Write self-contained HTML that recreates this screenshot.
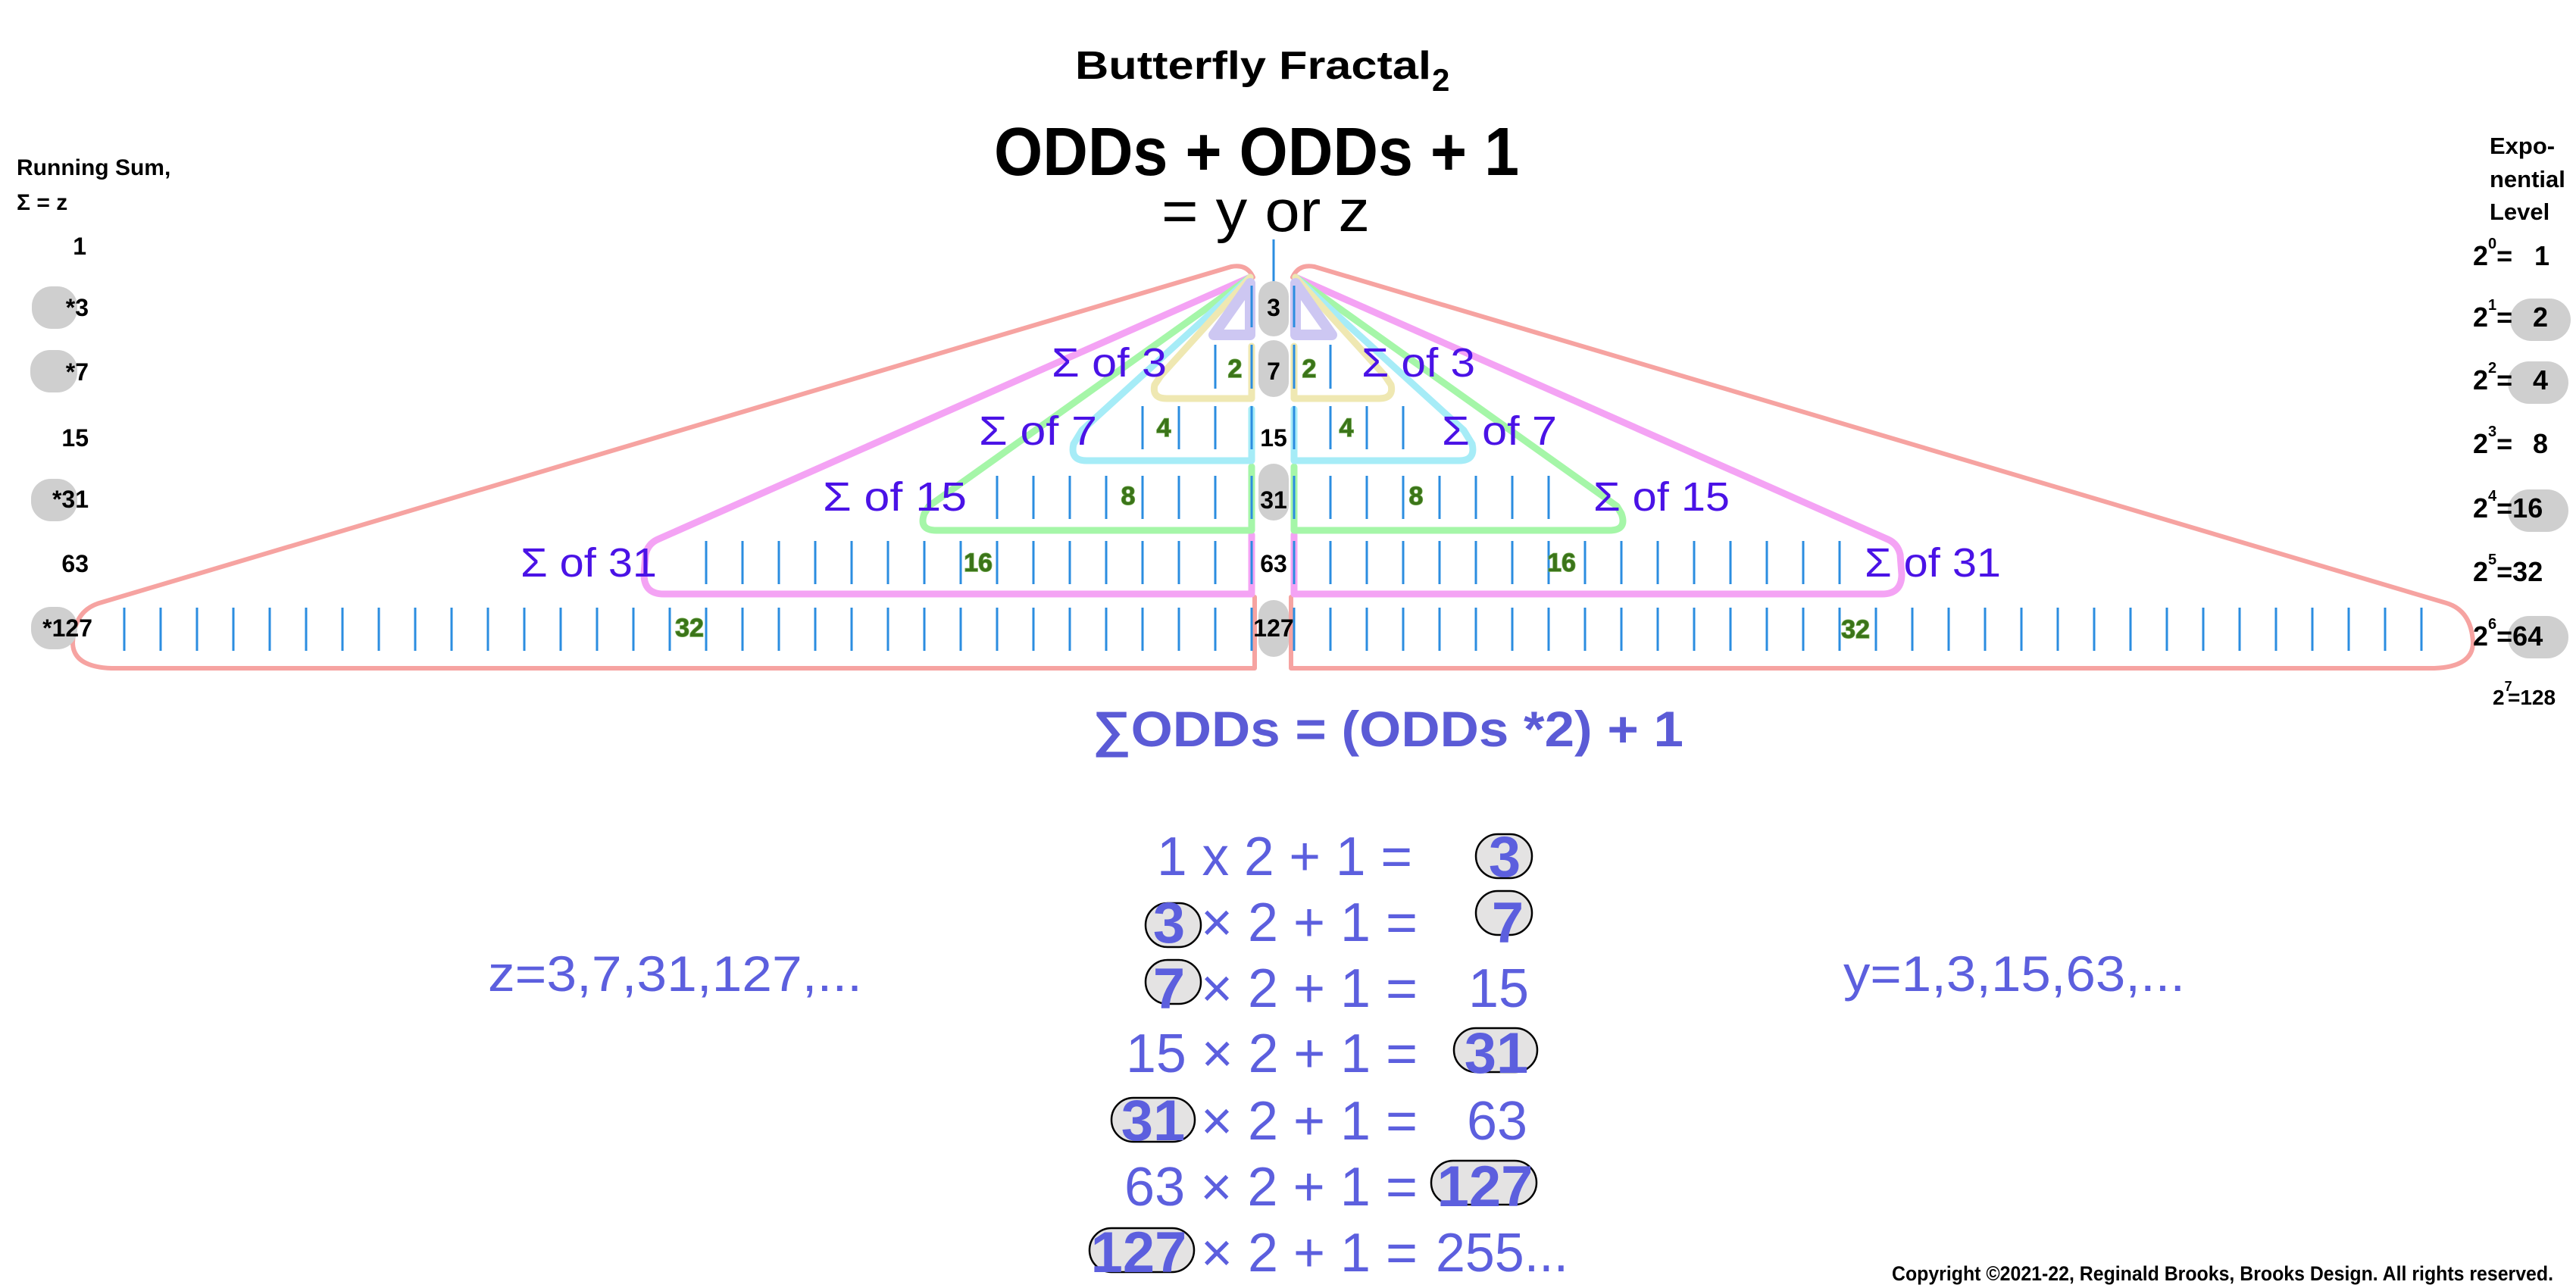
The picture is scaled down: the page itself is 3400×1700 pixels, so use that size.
<!DOCTYPE html>
<html><head><meta charset="utf-8"><style>
html,body{margin:0;padding:0;background:#fff;}
svg{display:block;}
text{font-family:"Liberation Sans",sans-serif;}
</style></head><body>
<svg width="3400" height="1700" viewBox="0 0 3400 1700" xmlns="http://www.w3.org/2000/svg">
<defs>
<pattern id="pl" patternUnits="userSpaceOnUse" x="18.5" y="0" width="48" height="1700"><rect x="0" y="0" width="3" height="1700" fill="#2b8de0"/></pattern>
<pattern id="pr" patternUnits="userSpaceOnUse" x="26.5" y="0" width="48" height="1700"><rect x="0" y="0" width="3" height="1700" fill="#2b8de0"/></pattern>
<g id="wing" fill="none" stroke-linejoin="round" stroke-linecap="round">
  <path d="M1656,788 L1656,882 L147,882 Q96,880 96,848 Q98,806 131,796 L1625,352 Q1646,348 1654,366" stroke="#f6a3a1" stroke-width="6"/>
  <path d="M1652,706 L1652,784 L876,784 Q850,784 850,758 L852,732 Q855,718 868,712 L1650,366" stroke="#f4a3f4" stroke-width="9"/>
  <path d="M1652,616 L1652,700 L1236,700 Q1212,700 1220,678 L1226,668 L1650,366" stroke="#a5f6a8" stroke-width="9"/>
  <path d="M1652,540 L1652,608 L1434,608 Q1412,608 1417,586 L1428,568 L1650,366" stroke="#a6ecf7" stroke-width="9"/>
  <path d="M1652,457 L1652,526 L1540,526 Q1520,526 1524,508 L1532,496 L1650,366" stroke="#efe8b2" stroke-width="9"/>
  <path d="M1650,374 L1650,442 L1602,442 Z" stroke="#cdc7f2" stroke-width="14"/>
</g>
</defs>
<use href="#wing"/>
<use href="#wing" transform="translate(3360,0) scale(-1,1)"/>
<rect x="1650.5" y="377" width="3" height="55" fill="url(#pl)"/>
<rect x="1602.5" y="455" width="51" height="58" fill="url(#pl)"/>
<rect x="1506.5" y="536" width="147" height="57" fill="url(#pl)"/>
<rect x="1314.5" y="628" width="339" height="57" fill="url(#pl)"/>
<rect x="930.5" y="714" width="723" height="57" fill="url(#pl)"/>
<rect x="162.5" y="802" width="1491" height="57" fill="url(#pl)"/>
<rect x="1706.5" y="377" width="3" height="55" fill="url(#pr)"/>
<rect x="1706.5" y="455" width="51" height="58" fill="url(#pr)"/>
<rect x="1706.5" y="536" width="147" height="57" fill="url(#pr)"/>
<rect x="1706.5" y="628" width="339" height="57" fill="url(#pr)"/>
<rect x="1706.5" y="714" width="723" height="57" fill="url(#pr)"/>
<rect x="1706.5" y="802" width="1491" height="57" fill="url(#pr)"/>
<line x1="1681" y1="316" x2="1681" y2="372" stroke="#2b8de0" stroke-width="3"/>
<g fill="#cfcfcf">
<rect x="1661" y="371" width="40" height="73" rx="20"/>
<rect x="1661" y="449" width="40" height="75" rx="20"/>
<rect x="1661" y="612" width="40" height="75" rx="20"/>
<rect x="1661" y="792" width="40" height="75" rx="20"/>
</g>
<g font-weight="bold" font-size="32" text-anchor="middle" fill="#000">
<text x="1681" y="417">3</text>
<text x="1681" y="501">7</text>
<text x="1681" y="589">15</text>
<text x="1681" y="671">31</text>
<text x="1681" y="755">63</text>
<text x="1681" y="840">127</text>
</g>
<g font-weight="bold" font-size="34" text-anchor="middle" fill="#3b7419" stroke="#6fa84c" stroke-width="1.5" paint-order="stroke">
<text x="1630" y="498">2</text><text x="1728" y="498">2</text>
<text x="1536" y="576">4</text><text x="1777" y="576">4</text>
<text x="1489" y="666">8</text><text x="1869" y="666">8</text>
<text x="1291" y="754">16</text><text x="2061" y="754">16</text>
<text x="910" y="840">32</text><text x="2449" y="842">32</text>
</g>
<g font-size="54" fill="#4a12e6" lengthAdjust="spacingAndGlyphs">
<text x="1388" y="497" textLength="152" lengthAdjust="spacingAndGlyphs">Σ of 3</text>
<text x="1797" y="497" textLength="150" lengthAdjust="spacingAndGlyphs">Σ of 3</text>
<text x="1292" y="587" textLength="156" lengthAdjust="spacingAndGlyphs">Σ of 7</text>
<text x="1903" y="587" textLength="152" lengthAdjust="spacingAndGlyphs">Σ of 7</text>
<text x="1086" y="674" textLength="190" lengthAdjust="spacingAndGlyphs">Σ of 15</text>
<text x="2103" y="674" textLength="180" lengthAdjust="spacingAndGlyphs">Σ of 15</text>
<text x="687" y="761" textLength="180" lengthAdjust="spacingAndGlyphs">Σ of 31</text>
<text x="2461" y="761" textLength="180" lengthAdjust="spacingAndGlyphs">Σ of 31</text>
</g>
<text x="1419" y="104" font-size="52" font-weight="bold" textLength="470" lengthAdjust="spacingAndGlyphs">Butterfly Fractal</text>
<text x="1890" y="120" font-size="42" font-weight="bold">2</text>
<text x="1312" y="231" font-size="90" font-weight="bold" textLength="693" lengthAdjust="spacingAndGlyphs">ODDs + ODDs + 1</text>
<text x="1533" y="305" font-size="78" textLength="275" lengthAdjust="spacingAndGlyphs">= y or z</text>
<g font-weight="bold" font-size="30" fill="#000">
<text x="22" y="231">Running Sum,</text>
<text x="22" y="277">Σ = z</text>
</g>
<g fill="#cfcfcf">
<rect x="42" y="378" width="60" height="56" rx="26"/>
<rect x="40" y="462" width="62" height="56" rx="26"/>
<rect x="41" y="632" width="61" height="56" rx="26"/>
<rect x="41" y="801" width="61" height="56" rx="26"/>
</g>
<g font-weight="bold" font-size="32" fill="#000" text-anchor="end">
<text x="114" y="336">1</text>
<text x="117" y="417">*3</text>
<text x="117" y="502">*7</text>
<text x="117" y="589">15</text>
<text x="117" y="670">*31</text>
<text x="117" y="755">63</text>
<text x="122" y="840">*127</text>
</g>
<g font-weight="bold" font-size="31" fill="#000">
<text x="3286" y="203">Expo-</text>
<text x="3286" y="247">nential</text>
<text x="3286" y="290">Level</text>
</g>
<g fill="#cfcfcf">
<rect x="3313" y="394" width="80" height="56" rx="28"/>
<rect x="3310" y="477" width="80" height="56" rx="28"/>
<rect x="3310" y="646" width="80" height="56" rx="28"/>
<rect x="3310" y="813" width="80" height="56" rx="28"/>
</g>
<g font-weight="bold" font-size="36" fill="#000">
<text x="3264" y="350">2<tspan font-size="20" dy="-22">0</tspan><tspan dy="22">= </tspan><tspan x="3345">1</tspan></text>
<text x="3264" y="431">2<tspan font-size="20" dy="-22">1</tspan><tspan dy="22">= </tspan><tspan x="3343">2</tspan></text>
<text x="3264" y="514">2<tspan font-size="20" dy="-22">2</tspan><tspan dy="22">= </tspan><tspan x="3343">4</tspan></text>
<text x="3264" y="598">2<tspan font-size="20" dy="-22">3</tspan><tspan dy="22">= </tspan><tspan x="3343">8</tspan></text>
<text x="3264" y="683">2<tspan font-size="20" dy="-22">4</tspan><tspan dy="22">=16</tspan></text>
<text x="3264" y="767">2<tspan font-size="20" dy="-22">5</tspan><tspan dy="22">=32</tspan></text>
<text x="3264" y="852">2<tspan font-size="20" dy="-22">6</tspan><tspan dy="22">=64</tspan></text>
<text x="3290" y="930" font-size="28">2<tspan font-size="18" dy="-18">7</tspan><tspan dy="18" x="3310">=128</tspan></text>
</g>
<text x="1442" y="985" font-size="66" font-weight="bold" fill="#5b5bd6" textLength="780" lengthAdjust="spacingAndGlyphs">∑ODDs = (ODDs *2) + 1</text>
<text x="644" y="1308" font-size="66" fill="#5c5fde" textLength="494" lengthAdjust="spacingAndGlyphs">z=3,7,31,127,...</text>
<text x="2433" y="1308" font-size="66" fill="#5c5fde" textLength="451" lengthAdjust="spacingAndGlyphs">y=1,3,15,63,...</text>
<g fill="#e4e3e3" stroke="#000" stroke-width="2.5">
<rect x="1948" y="1101" width="74" height="58" rx="29"/>
<rect x="1512" y="1192" width="73" height="58" rx="29"/>
<rect x="1948" y="1176" width="74" height="58" rx="29"/>
<rect x="1512" y="1267" width="73" height="58" rx="29"/>
<rect x="1919" y="1357" width="110" height="58" rx="29"/>
<rect x="1467" y="1449" width="110" height="58" rx="29"/>
<rect x="1889" y="1532" width="139" height="58" rx="29"/>
<rect x="1438" y="1621" width="138" height="58" rx="29"/>
</g>
<g font-size="72" fill="#5c5fde">
<text x="1527" y="1155" textLength="337" lengthAdjust="spacingAndGlyphs">1 x 2 + 1 =</text>
<text x="1585" y="1242" textLength="286" lengthAdjust="spacingAndGlyphs">× 2 + 1 =</text>
<text x="1585" y="1329" textLength="286" lengthAdjust="spacingAndGlyphs">× 2 + 1 =</text>
<text x="1938" y="1329">15</text>
<text x="1486" y="1415" textLength="385" lengthAdjust="spacingAndGlyphs">15 × 2 + 1 =</text>
<text x="1585" y="1504" textLength="286" lengthAdjust="spacingAndGlyphs">× 2 + 1 =</text>
<text x="1936" y="1504">63</text>
<text x="1484" y="1591" textLength="387" lengthAdjust="spacingAndGlyphs">63 × 2 + 1 =</text>
<text x="1585" y="1678" textLength="286" lengthAdjust="spacingAndGlyphs">× 2 + 1 =</text>
<text x="1895" y="1678" textLength="175" lengthAdjust="spacingAndGlyphs">255...</text>
</g>
<g font-size="76" font-weight="bold" fill="#5c5fde" text-anchor="middle">
<text x="1986" y="1157">3</text>
<text x="1543" y="1244">3</text>
<text x="1990" y="1244">7</text>
<text x="1543" y="1331">7</text>
<text x="1975" y="1416">31</text>
<text x="1522" y="1505">31</text>
<text x="1960" y="1592">127</text>
<text x="1503" y="1679">127</text>
</g>
<text x="2497" y="1690" font-size="27" font-weight="bold" fill="#000" textLength="873" lengthAdjust="spacingAndGlyphs">Copyright ©2021-22, Reginald Brooks, Brooks Design. All rights reserved.</text>
</svg>
</body></html>
